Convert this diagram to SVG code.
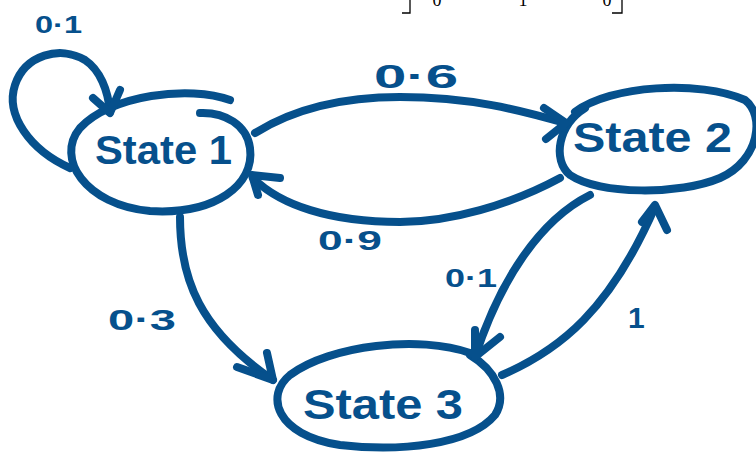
<svg xmlns="http://www.w3.org/2000/svg" width="756" height="453" viewBox="0 0 756 453">
<style>
.s{fill:none;stroke:#06508c;stroke-width:8;stroke-linecap:round;stroke-linejoin:round}
.t{fill:#06508c;font-family:"Liberation Sans",Arial,sans-serif;font-weight:bold}
.m{fill:#000;font-family:"Liberation Serif","Times New Roman",serif}
</style>
<rect width="756" height="453" fill="#fff"/>
<g id="matrix">
<path d="M410,0 V13 H402 M404,13 H410 M612,13 H622 V0" fill="none" stroke="#000" stroke-width="1.3"/>
<text class="m" x="437" y="6" font-size="18" text-anchor="middle">0</text>
<text class="m" x="523" y="6" font-size="18" text-anchor="middle">1</text>
<text class="m" x="607" y="6" font-size="18" text-anchor="middle">0</text>
</g>
<g id="state1">
<path class="s" d="M230,100 C190,85 110,95 80,128 C55,158 85,205 150,211 C215,215 255,185 250,148 C247,125 225,112 200,113"/>
<text class="t" x="95" y="164" font-size="40" textLength="137" lengthAdjust="spacingAndGlyphs">State 1</text>
</g>
<g id="state2">
<path class="s" d="M575,112 C610,85 700,80 745,100 C765,115 760,160 720,178 C680,195 600,195 570,175 C552,160 558,125 585,108"/>
<text class="t" x="573" y="152" font-size="42" textLength="159" lengthAdjust="spacingAndGlyphs">State 2</text>
</g>
<g id="state3">
<path class="s" d="M470,353 C420,335 330,345 290,375 C265,395 275,435 340,445 C400,452 470,445 495,415 C508,395 495,370 470,355"/>
<text class="t" x="303" y="419" font-size="42" textLength="160" lengthAdjust="spacingAndGlyphs">State 3</text>
</g>
<g id="connectors">
<path class="s" d="M70,168 C30,150 5,115 15,85 C25,55 60,45 85,60 C100,70 108,90 110,112"/>
<path class="s" d="M93,98 L110,113 L120,90"/>
<path class="s" d="M255,133 C300,105 350,97 400,97 C470,97 520,110 565,123"/>
<path class="s" d="M544,108 L566,123 L546,139"/>
<path class="s" d="M560,178 C510,205 450,222 400,222 C330,222 280,205 253,178"/>
<path class="s" d="M280,178 L252,175 L258,195"/>
<path class="s" d="M180,217 C180,280 200,330 273,380"/>
<path class="s" d="M237,367 L273,380 L267,353"/>
<path class="s" d="M590,195 C540,220 500,280 475,357"/>
<path class="s" d="M475,330 L475,357 L500,337"/>
<path class="s" d="M502,375 C560,350 610,310 655,207"/>
<path class="s" d="M642,222 L655,205 L667,230"/>
</g>
<g id="labels">
<text class="t" x="35" y="33" font-size="24" textLength="47" lengthAdjust="spacingAndGlyphs">0·1</text>
<text class="t" x="374" y="88" font-size="34" textLength="84" lengthAdjust="spacingAndGlyphs">0·6</text>
<text class="t" x="318" y="250" font-size="28" textLength="64" lengthAdjust="spacingAndGlyphs">0·9</text>
<text class="t" x="108" y="330" font-size="30" textLength="68" lengthAdjust="spacingAndGlyphs">0·3</text>
<text class="t" x="445" y="287" font-size="26" textLength="52" lengthAdjust="spacingAndGlyphs">0·1</text>
<text class="t" x="628" y="328" font-size="30">1</text>
</g>
</svg>
